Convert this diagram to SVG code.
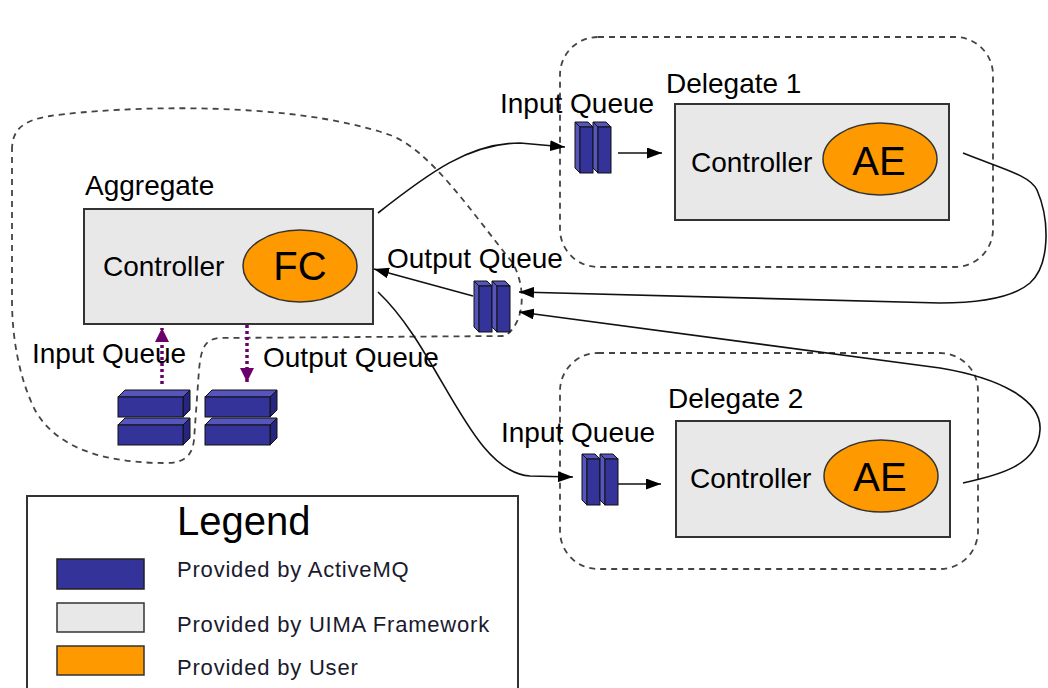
<svg xmlns="http://www.w3.org/2000/svg" width="1048" height="688" viewBox="0 0 1048 688">
<style>
text{font-family:"Liberation Sans",Arial,sans-serif;fill:#000}
.lbl{font-size:28px}
.big{font-size:40px;text-anchor:middle}
.leg{font-size:22px;letter-spacing:0.8px;fill:#1a1a2e}
.ctrl{fill:#e8e8e8;stroke:#333;stroke-width:2}
.user{fill:#ff9900;stroke:#333;stroke-width:1.5}
.dash{fill:none;stroke:#444;stroke-width:1.8;stroke-dasharray:6,5}
.conn{fill:none;stroke:#111;stroke-width:1.6}
.dot{fill:none;stroke:#6b006b;stroke-width:3.5;stroke-dasharray:3,3}
.qf{fill:#333399;stroke:#111;stroke-width:1}
.qt{fill:#5555bb;stroke:#111;stroke-width:1}
.qs{fill:#262680;stroke:#111;stroke-width:1}
</style>
<defs>
<marker id="arr" markerUnits="userSpaceOnUse" markerWidth="15" markerHeight="11" refX="15" refY="5.5" orient="auto">
<path d="M0,0 L15,5.5 L0,11 z" fill="#000"/>
</marker>
<marker id="parr" markerUnits="userSpaceOnUse" markerWidth="14" markerHeight="14" refX="14" refY="7" orient="auto">
<path d="M0,0 L14,7 L0,14 z" fill="#6b006b"/>
</marker>
<g id="vbar">
<polygon class="qt" points="0,0 13,0 18,5 5,5"/>
<polygon class="qt" points="0,0 5,5 5,51 0,46"/>
<rect class="qf" x="5" y="5" width="13" height="46"/>
</g>
<g id="vq">
<use href="#vbar"/>
<use href="#vbar" x="18"/>
</g>
<g id="hblock">
<polygon class="qt" points="0,7 7,0 72,0 65,7"/>
<polygon class="qs" points="65,7 72,0 72,20 65,27"/>
<rect class="qf" x="0" y="7" width="65" height="20"/>
</g>
</defs>
<rect width="1048" height="688" fill="#fff"/>

<g id="containers">
<path class="dash" d="M12,150 C12,128 25,120 50,116 C120,106 290,100 390,135 C430,150 470,210 512,262 C526,285 526,322 505,336 L218,338 C205,340 201,348 199,370 L194,440 C192,458 182,463 165,463 C120,463 60,455 35,410 C20,380 12,340 12,300 Z"/>
<rect class="dash" x="560" y="37" width="433" height="230" rx="38" ry="38"/>
<rect class="dash" x="560" y="353" width="418" height="216" rx="38" ry="38"/>
</g>

<g id="aggregate">
<text class="lbl" x="85" y="195">Aggregate</text>
<rect class="ctrl" x="84" y="209" width="289" height="115"/>
<text class="lbl" x="103" y="276">Controller</text>
<ellipse class="user" cx="300" cy="266" rx="57" ry="36"/>
<text class="big" x="300" y="280">FC</text>
</g>

<g id="delegate1">
<text class="lbl" x="666" y="93">Delegate 1</text>
<rect class="ctrl" x="675" y="104" width="274" height="116"/>
<text class="lbl" x="691" y="172">Controller</text>
<ellipse class="user" cx="880" cy="159" rx="57" ry="36"/>
<text class="big" x="879" y="175">AE</text>
</g>

<g id="delegate2">
<text class="lbl" x="668" y="408">Delegate 2</text>
<rect class="ctrl" x="676" y="421" width="274" height="116"/>
<text class="lbl" x="690" y="488">Controller</text>
<ellipse class="user" cx="881" cy="476" rx="57" ry="36"/>
<text class="big" x="880" y="491">AE</text>
</g>

<g id="inputQueue1">
<text class="lbl" x="500" y="113">Input Queue</text>
<use href="#vq" x="575" y="122"/>
</g>

<g id="inputQueue2">
<text class="lbl" x="501" y="442">Input Queue</text>
<use href="#vq" x="582" y="454"/>
</g>

<g id="outputQueue">
<text class="lbl" x="387" y="268">Output Queue</text>
<use href="#vq" x="474" y="281"/>
</g>

<g id="aggInputQueue">
<text class="lbl" x="32" y="363">Input Queue</text>
<use href="#hblock" x="118" y="390"/>
<use href="#hblock" x="118" y="418"/>
</g>

<g id="aggOutputQueue">
<text class="lbl" x="263" y="367">Output Queue</text>
<use href="#hblock" x="205" y="390"/>
<use href="#hblock" x="205" y="418"/>
</g>

<g id="connectors">
<path class="conn" d="M378,213 C430,172 470,143 520,143 L565,147" marker-end="url(#arr)"/>
<path class="conn" d="M378,292 C440,350 470,472 530,476 L573,477" marker-end="url(#arr)"/>
<path class="conn" d="M618,153 L662,153" marker-end="url(#arr)"/>
<path class="conn" d="M618,484 L661,484" marker-end="url(#arr)"/>
<path class="conn" d="M473,296 L374,269" marker-end="url(#arr)"/>
<path class="conn" d="M963,153 C1000,168 1030,175 1037,190 C1050,220 1050,265 1030,283 C1010,300 970,303 940,303 L519,292" marker-end="url(#arr)"/>
<path class="conn" d="M963,483 C1000,475 1038,465 1040,430 C1042,400 1000,378 940,368 L519,312" marker-end="url(#arr)"/>
<path class="dot" d="M162,384 L162,328" marker-end="url(#parr)"/>
<path class="dot" d="M247,325 L247,382" marker-end="url(#parr)"/>
</g>

<g id="legend">
<rect x="27" y="496" width="491" height="210" fill="#fff" stroke="#333" stroke-width="2"/>
<text x="177" y="535" style="font-size:40px">Legend</text>
<rect x="57" y="559" width="87" height="30" fill="#333399" stroke="#222" stroke-width="1.5"/>
<text class="leg" x="177" y="577">Provided by ActiveMQ</text>
<rect x="57" y="603" width="87" height="29" fill="#e8e8e8" stroke="#333" stroke-width="1.5"/>
<text class="leg" x="177" y="632">Provided by UIMA Framework</text>
<rect x="57" y="646" width="87" height="29" fill="#ff9900" stroke="#333" stroke-width="1.5"/>
<text class="leg" x="177" y="675">Provided by User</text>
</g>
</svg>
